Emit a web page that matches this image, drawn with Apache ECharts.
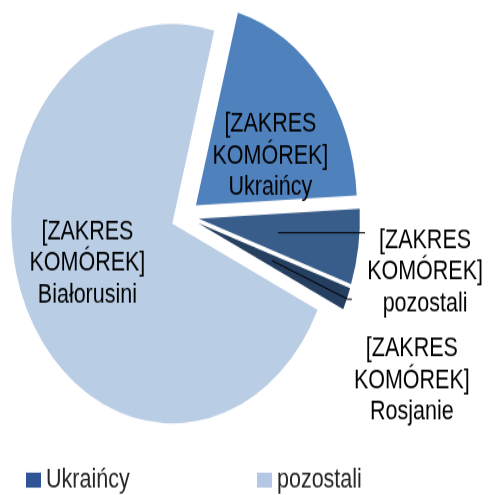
<!DOCTYPE html>
<html>
<head>
<meta charset="utf-8">
<script src="https://cdn.jsdelivr.net/npm/echarts@6/dist/echarts.min.js"></script>
<style>
html, body { margin: 0; padding: 0; background: #fff; width: 489px; height: 495px; overflow: hidden; }
/* the reference is stretched vertically, so draw flat and scale up */
#chart { width: 489px; height: 399px; transform: scaleY(1.2406); transform-origin: 0 0; }
</style>
</head>
<body>
<div id="chart"></div>
<script>
var categories = ['Ukraińcy', 'pozostali', 'Rosjanie', 'Białorusini'];
var shares = [20.0, 6.1, 1.8, 72.1];
var sliceColors = ['#4f81bd', '#385d8a', '#253f60', '#b9cde5'];
var legendNames = ['Ukraińcy', 'pozostali'];
var legendColors = ['#2f5597', '#b4c7e7'];
var labelPrefix = ['[ZAKRES', 'KOMÓREK]'];

var FONT = '"Liberation Sans", Arial, sans-serif';
var CENTER = [185, 174.4];
var START = 74.9;

function insideText(p) {
    return labelPrefix.concat([p.name]).join('\n');
}
function outsideText(p) {
    return labelPrefix.concat([p.name]).map(function (s) { return '{c|' + s + '}'; }).join('\n');
}

// nudges for the two labels drawn inside their slices
var insideShift = { 'Ukraińcy': [9.5, 12.5], 'Białorusini': [-9, -2.7] };
// outside labels hang on a small invisible pie, so leader lines start inside the slice
var outsideCfg = {
    'pozostali': { pad: [63, 0, 0, 0], len: 0, len2: 87 },
    'Rosjanie': { pad: [131, 0, 0, 0], len: 82, len2: 4 }
};

var mainData = categories.map(function (n, i) {
    return {
        name: n, value: shares[i], selected: true,
        itemStyle: { color: sliceColors[i] },
        label: { show: !!insideShift[n] }
    };
});

var leaderData = categories.map(function (n, i) {
    var item = { name: n, value: shares[i], selected: true };
    var c = outsideCfg[n];
    if (c) {
        item.label = { show: true, padding: c.pad };
        item.labelLine = { show: true, length: c.len, length2: c.len2 };
    } else {
        item.label = { show: false };
        item.labelLine = { show: false };
    }
    return item;
});

var chart = echarts.init(document.getElementById('chart'));
chart.setOption({
    animation: false,
    backgroundColor: '#fff',
    legend: legendNames.map(function (n, i) {
        return {
            left: i === 0 ? 21 : 252,
            top: 371,
            selectedMode: false,
            itemWidth: 15,
            itemHeight: 12.1,
            textStyle: { fontFamily: FONT, fontSize: 21.5, color: '#262626' },
            data: [{ name: n, icon: 'rect', itemStyle: { color: legendColors[i] } }]
        };
    }),
    series: [{
        type: 'pie',
        name: 'main',
        center: CENTER,
        radius: 161,
        startAngle: START,
        clockwise: true,
        selectedMode: 'multiple',
        selectedOffset: 14,
        avoidLabelOverlap: false,
        silent: true,
        emphasis: { disabled: true },
        label: {
            position: 'inside',
            fontFamily: FONT,
            fontSize: 21.5,
            lineHeight: 25.5,
            color: '#000',
            formatter: insideText
        },
        labelLine: { show: false },
        labelLayout: function (p) {
            var s = insideShift[categories[p.dataIndex]];
            return s ? { dx: s[0], dy: s[1] } : {};
        },
        data: mainData
    }, {
        type: 'pie',
        name: 'leaders',
        center: CENTER,
        radius: 80,
        startAngle: START,
        clockwise: true,
        selectedMode: 'multiple',
        selectedOffset: 14,
        avoidLabelOverlap: false,
        silent: true,
        z: 3,
        emphasis: { disabled: true },
        itemStyle: { color: 'rgba(0,0,0,0)' },
        label: {
            position: 'outside',
            distanceToLabelLine: 5,
            formatter: outsideText,
            rich: {
                c: {
                    width: 110,
                    align: 'center',
                    fontFamily: FONT,
                    fontSize: 21.5,
                    lineHeight: 25.5,
                    color: '#000'
                }
            }
        },
        labelLine: { lineStyle: { color: '#000', width: 1 } },
        data: leaderData
    }]
});
</script>
</body>
</html>
